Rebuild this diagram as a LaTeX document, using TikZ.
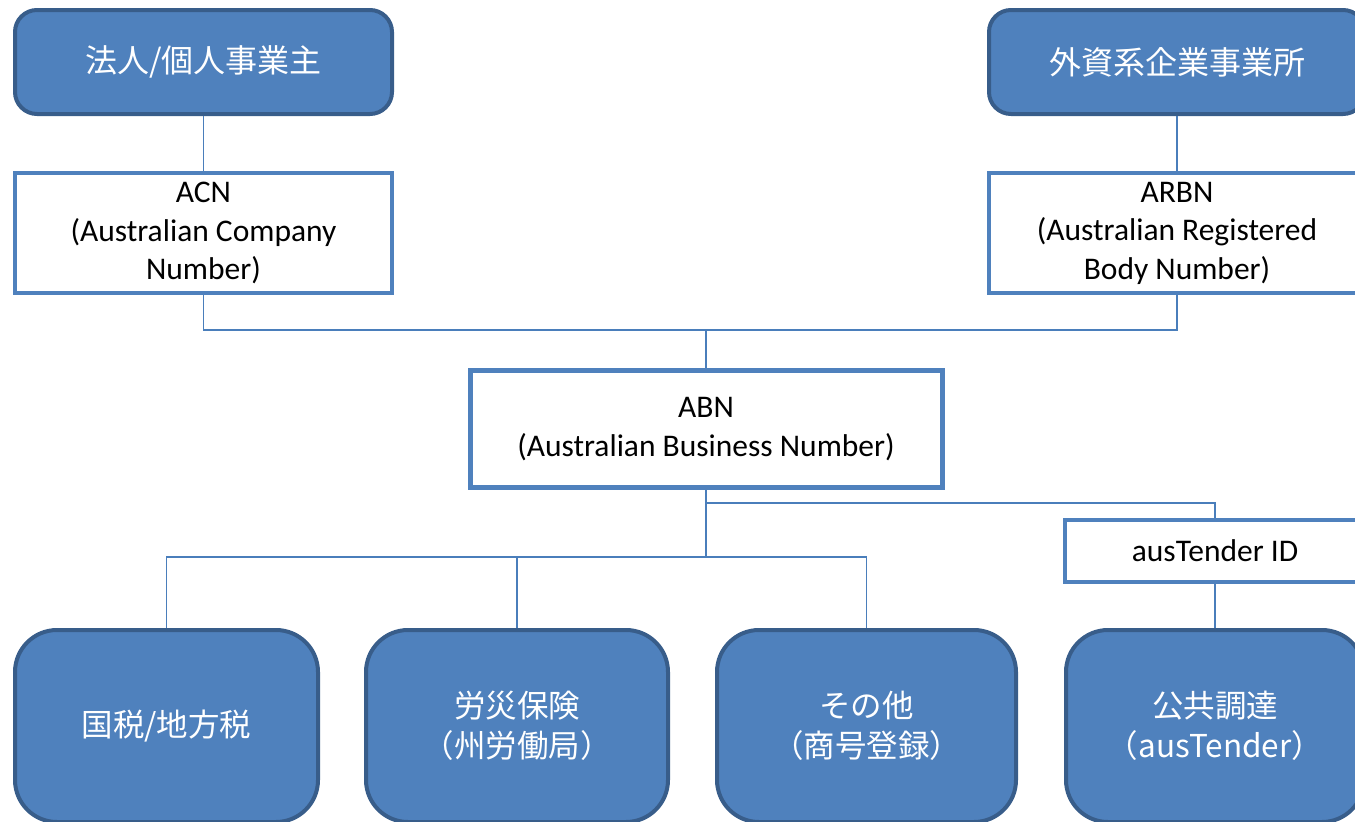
\documentclass[tikz,border=0pt]{standalone}
\usepackage{fontspec}
\setmainfont{Carlito}
\newfontfamily\cjk{Noto Sans CJK JP}
\definecolor{boxfill}{HTML}{4F81BD}
\definecolor{boxedge}{HTML}{385D8A}
\definecolor{linecol}{HTML}{4A7EBB}
\tikzset{
  orgbox/.style={rectangle, rounded corners=22pt, fill=boxfill, draw=boxedge,
    line width=4pt, inner sep=0pt, align=center, text=white,
    font=\cjk\fontsize{32}{40}\selectfont},
  lowbox/.style={orgbox, rounded corners=42pt, font=\cjk\fontsize{31.5}{40}\selectfont},
  idbox/.style={rectangle, fill=white, draw=boxfill, line width=4pt,
    inner sep=0pt, align=center, text=black,
    font=\fontsize{31.5}{38.5}\selectfont},
  conn/.style={draw=linecol, line width=1.8pt},
}
\begin{document}
\begin{tikzpicture}[x=1pt,y=-1pt]
\useasboundingbox (0,0) rectangle (1355,822);
\clip (0,0) rectangle (1355,822);
% top row: entity kinds
\node[orgbox, minimum width=377pt, minimum height=104pt] (hojin) at (203.5,62) {法人/個人事業主};
\node[orgbox, minimum width=376pt, minimum height=104pt] (gaishi) at (1177,62) {外資系企業事業所};
% registration numbers
\node[idbox, minimum width=377pt, minimum height=120pt] (acn) at (203.5,233) {ACN\\(Australian Company\\Number)};
\node[idbox, minimum width=376pt, minimum height=120pt] (arbn) at (1177,233) {ARBN\\(Australian Registered\\Body Number)};
\node[idbox, line width=5pt, minimum width=472pt, minimum height=117pt] (abn) at (706,429) {ABN\\(Australian Business Number)};
\node[idbox, minimum width=300pt, minimum height=62pt] (ausid) at (1215,551) {ausTender ID};
% bottom row: where the numbers are used
\node[lowbox, minimum width=303pt, minimum height=192pt] (tax) at (166.5,726) {国税/地方税};
\node[lowbox, minimum width=302pt, minimum height=192pt] (rosai) at (517,726) {労災保険\\（州労働局）};
\node[lowbox, minimum width=299pt, minimum height=192pt] (sonota) at (866.5,726) {その他\\（商号登録）};
\node[lowbox, minimum width=298pt, minimum height=192pt] (kokyo) at (1215,726) {公共調達\\（ausTender）};
% junctions
\coordinate (jtop) at (706,330);
\coordinate (jmid) at (706,557);
\coordinate (jaus) at (706,503);
% connectors
\draw[conn] (hojin.south) -- (acn.north);
\draw[conn] (gaishi.south) -- (arbn.north);
\draw[conn] (acn.south) |- (jtop) -| (arbn.south);
\draw[conn] (jtop) -- (abn.north);
\draw[conn] (abn.south) -- (jmid);
\draw[conn] (jmid) -| (tax.north);
\draw[conn] (jmid) -| (rosai.north);
\draw[conn] (jmid) -| (sonota.north);
\draw[conn] (jaus) -| (ausid.north);
\draw[conn] (ausid.south) -- (kokyo.north);
\end{tikzpicture}
\end{document}
